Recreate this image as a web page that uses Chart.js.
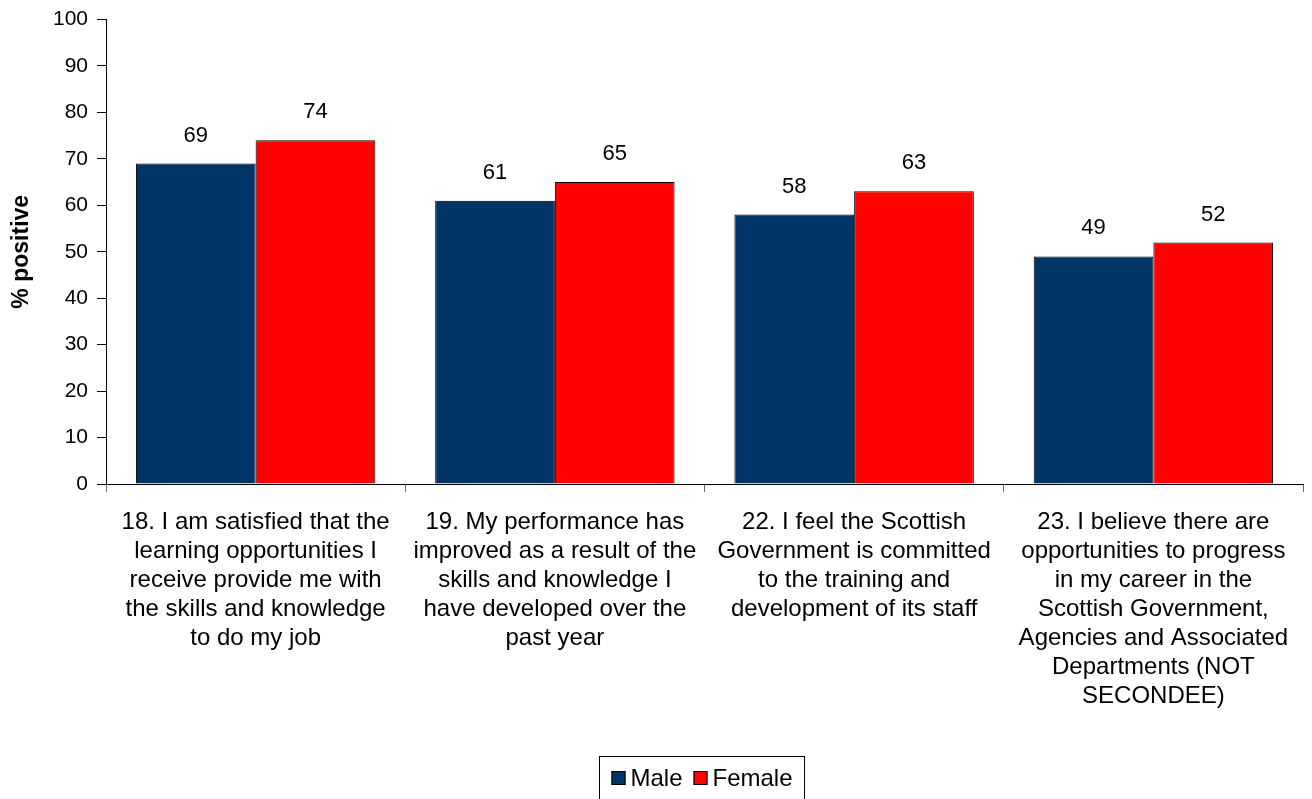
<!DOCTYPE html>
<html>
<head>
<meta charset="utf-8">
<script src="https://cdn.jsdelivr.net/npm/chart.js@4/dist/chart.umd.min.js"></script>
<style>
  html, body { margin: 0; padding: 0; background: #fff; }
  #wrap { width: 1312px; height: 799px; position: relative; }
</style>
</head>
<body>
<div id="wrap"><canvas id="c" width="1312" height="799"></canvas></div>
<script>
// Survey statements (multi-line labels)
const categories = [
  ["18. I am satisfied that the", "learning opportunities I", "receive provide me with", "the skills and knowledge", "to do my job"],
  ["19. My performance has", "improved as a result of the", "skills and knowledge I", "have developed over the", "past year"],
  ["22. I feel the Scottish", "Government is committed", "to the training and", "development of its staff"],
  ["23. I believe there are", "opportunities to progress", "in my career in the", "Scottish Government,", "Agencies and Associated", "Departments (NOT", "SECONDEE)"]
];
const maleValues = [69, 61, 58, 49];
const femaleValues = [74, 65, 63, 52];
const seriesNames = ["Male", "Female"];
const yTicks = [0, 10, 20, 30, 40, 50, 60, 70, 80, 90, 100];

const FONT = "'Liberation Sans', Arial, sans-serif";

// Value labels above each bar
const valueLabels = {
  id: 'valueLabels',
  afterDatasetsDraw(chart) {
    const ctx = chart.ctx;
    ctx.save();
    ctx.font = "22px " + FONT;
    ctx.fillStyle = '#000';
    ctx.textAlign = 'center';
    ctx.textBaseline = 'middle';
    chart.data.datasets.forEach((ds, i) => {
      chart.getDatasetMeta(i).data.forEach((bar, j) => {
        ctx.fillText(String(ds.data[j]), bar.x, bar.y - 28);
      });
    });
    ctx.restore();
  }
};

// Boxed legend at the bottom
const boxedLegend = {
  id: 'boxedLegend',
  afterDraw(chart) {
    const ctx = chart.ctx;
    ctx.save();
    ctx.font = "24px " + FONT;
    const sq = 14, gapSq = 5, gapItem = 11, padX = 12;
    const items = chart.data.datasets.map(ds => ({ label: ds.label, color: ds.backgroundColor, w: ctx.measureText(ds.label).width }));
    let total = padX * 2;
    items.forEach((it, k) => { total += sq + gapSq + it.w + (k < items.length - 1 ? gapItem : 0); });
    const cx = 702;
    const left = Math.round(cx - total / 2) + 0.5;
    const top = 756.5;
    ctx.strokeStyle = '#000';
    ctx.lineWidth = 1;
    ctx.strokeRect(left, top, total, 60);
    let x = left + padX;
    const midY = 778;
    items.forEach(it => {
      ctx.fillStyle = it.color;
      ctx.fillRect(x, midY - sq / 2, sq, sq);
      ctx.strokeStyle = '#000';
      ctx.strokeRect(x + 0.5, midY - sq / 2 + 0.5, sq - 1, sq - 1);
      x += sq + gapSq;
      ctx.fillStyle = '#000';
      ctx.textBaseline = 'middle';
      ctx.textAlign = 'left';
      ctx.fillText(it.label, x, midY + 1);
      x += it.w + gapItem;
    });
    ctx.restore();
  }
};

new Chart(document.getElementById('c'), {
  type: 'bar',
  data: {
    labels: categories,
    datasets: [
      { label: seriesNames[0], data: maleValues, backgroundColor: '#003366', borderColor: '#000', borderWidth: 1 },
      { label: seriesNames[1], data: femaleValues, backgroundColor: '#FF0000', borderColor: '#000', borderWidth: 1 }
    ]
  },
  options: {
    responsive: false,
    animation: false,
    devicePixelRatio: 1,
    layout: { padding: { top: 18, right: 9, bottom: 0, left: 0 } },
    datasets: { bar: { categoryPercentage: 0.8, barPercentage: 1.0 } },
    plugins: {
      legend: { display: false },
      tooltip: { enabled: false }
    },
    scales: {
      x: {
        grid: { display: true, drawOnChartArea: false, offset: true, color: '#666', tickLength: 8 },
        border: { display: true, color: '#000', width: 1 },
        ticks: {
          color: '#000',
          font: { family: FONT, size: 24, lineHeight: 29 / 24 },
          padding: 16,
          maxRotation: 0,
          autoSkip: false
        },
        afterFit(scale) { scale.height = 799 - 484; }
      },
      y: {
        min: 0,
        max: 100,
        afterBuildTicks(scale) { scale.ticks = yTicks.map(v => ({ value: v })); },
        grid: { display: true, drawOnChartArea: false, color: '#000', tickLength: 9 },
        border: { display: true, color: '#000', width: 1 },
        ticks: {
          color: '#000',
          font: { family: FONT, size: 21, lineHeight: 1 },
          padding: 9
        },
        title: {
          display: true,
          text: '% positive',
          color: '#000',
          font: { family: FONT, size: 23, weight: 'bold' },
          padding: { top: 8, bottom: 0 }
        },
        afterFit(scale) { scale.width = 106; }
      }
    }
  },
  plugins: [valueLabels, boxedLegend]
});
</script>
</body>
</html>
